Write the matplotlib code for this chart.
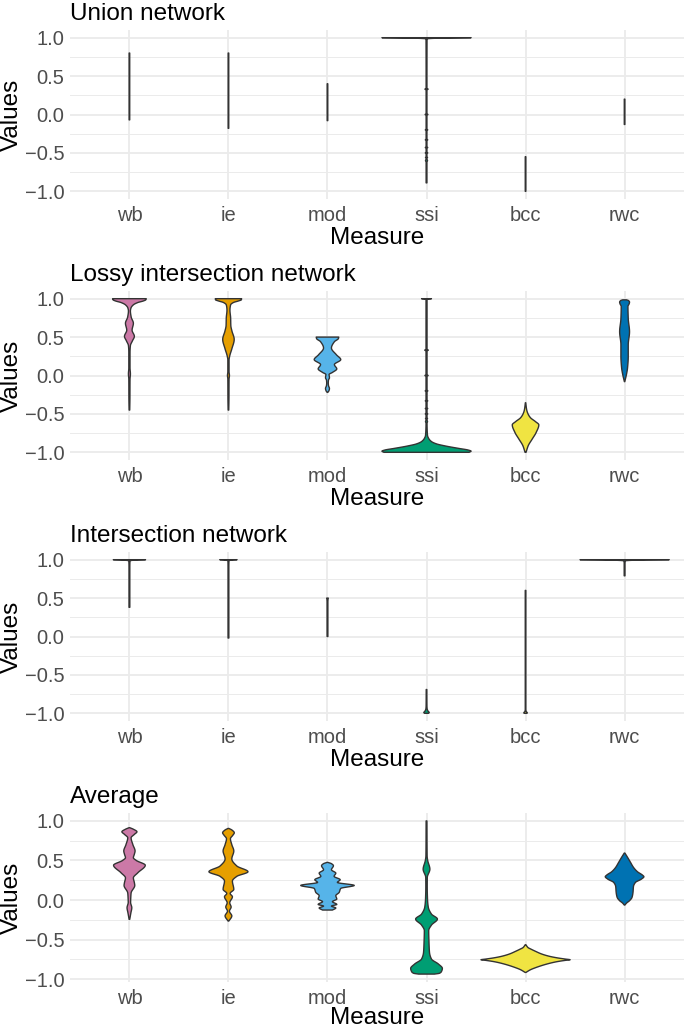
import numpy as np
import matplotlib
matplotlib.use("Agg")
import matplotlib.pyplot as plt

plt.rcParams['font.family'] = ['Liberation Sans', 'DejaVu Sans']

measures = ["wb", "ie", "mod", "ssi", "bcc", "rwc"]
fill_colors = ["#CC79A7", "#E69F00", "#56B4E9", "#009E73", "#F0E442", "#0072B2"]
panel_titles = ["Union network", "Lossy intersection network", "Intersection network", "Average"]
y_major = [-1.0, -0.5, 0.0, 0.5, 1.0]
y_major_labels = ["\u22121.0", "\u22120.5", "0.0", "0.5", "1.0"]
y_minor = [-0.75, -0.25, 0.25, 0.75]

# Violin outlines: value levels (ascending) and half-widths (in category units, max 0.45)
union_y = {
    "wb": [-0.07, 0.8],
    "ie": [-0.18, 0.8],
    "mod": [-0.08, 0.4],
    "ssi": [-0.89, -0.62, -0.6, -0.58, -0.57, -0.56, -0.55, -0.51, -0.5, -0.49, -0.44, -0.43, -0.42,
            -0.34, -0.33, -0.32, -0.21, -0.2, -0.19, -0.01, 0.0, 0.01, 0.32, 0.33, 0.34, 0.985, 0.995, 1.0],
    "bcc": [-1.0, -0.55],
    "rwc": [-0.13, 0.2],
}
union_w = {
    "wb": [0.003, 0.003],
    "ie": [0.003, 0.003],
    "mod": [0.003, 0.003],
    "ssi": [0.004, 0.004, 0.01, 0.004, 0.004, 0.01, 0.004, 0.004, 0.012, 0.004, 0.004, 0.012, 0.004,
            0.004, 0.012, 0.004, 0.004, 0.012, 0.004, 0.004, 0.014, 0.004, 0.004, 0.016, 0.004, 0.005, 0.15, 0.45],
    "bcc": [0.003, 0.003],
    "rwc": [0.003, 0.003],
}

lossy_y = {
    "wb": [-0.45, -0.3, -0.05, 0.02, 0.1, 0.3, 0.39, 0.45, 0.51, 0.59, 0.68, 0.76, 0.84, 0.88, 0.92, 0.95, 0.97, 0.985, 1.0],
    "ie": [-0.45, -0.3, -0.05, 0.0, 0.05, 0.2, 0.25, 0.35, 0.47, 0.58, 0.65, 0.75, 0.85, 0.92, 0.95, 0.97, 0.985, 1.0],
    "mod": [-0.22, -0.2, -0.17, -0.13, -0.1, -0.06, -0.03, 0.013, 0.04, 0.086, 0.142, 0.207, 0.27, 0.358, 0.44, 0.48, 0.5],
    "ssi": [-1.0, -0.985, -0.97, -0.95, -0.92, -0.89, -0.86, -0.82, -0.78, -0.62, -0.6, -0.58, -0.57, -0.56, -0.55,
            -0.51, -0.5, -0.49, -0.44, -0.43, -0.42, -0.34, -0.33, -0.32, -0.21, -0.2, -0.19,
            -0.01, 0.0, 0.01, 0.32, 0.33, 0.34, 0.985, 0.995, 1.0],
    "bcc": [-1.0, -0.914, -0.828, -0.742, -0.642, -0.6, -0.55, -0.5, -0.45, -0.4, -0.355],
    "rwc": [-0.08, 0.02, 0.1, 0.25, 0.4, 0.57, 0.74, 0.9, 0.93, 0.955, 0.975, 0.985],
}
lossy_w = {
    "wb": [0.003, 0.005, 0.006, 0.01, 0.006, 0.006, 0.01, 0.03, 0.05, 0.027, 0.04, 0.018, 0.01, 0.016, 0.04, 0.085, 0.14, 0.165, 0.17],
    "ie": [0.003, 0.005, 0.006, 0.01, 0.006, 0.006, 0.012, 0.035, 0.058, 0.035, 0.024, 0.022, 0.015, 0.022, 0.05, 0.1, 0.13, 0.133],
    "mod": [0.003, 0.014, 0.02, 0.01, 0.008, 0.01, 0.02, 0.016, 0.05, 0.094, 0.07, 0.134, 0.09, 0.04, 0.07, 0.11, 0.114],
    "ssi": [0.43, 0.45, 0.42, 0.33, 0.2, 0.1, 0.05, 0.022, 0.01, 0.005, 0.01, 0.005, 0.005, 0.01, 0.005,
            0.005, 0.012, 0.005, 0.005, 0.012, 0.005, 0.005, 0.012, 0.005, 0.005, 0.013, 0.005,
            0.005, 0.016, 0.005, 0.005, 0.018, 0.005, 0.005, 0.01, 0.05],
    "bcc": [0.005, 0.027, 0.067, 0.107, 0.134, 0.1, 0.05, 0.025, 0.012, 0.006, 0.002],
    "rwc": [0.002, 0.02, 0.03, 0.037, 0.037, 0.05, 0.037, 0.034, 0.045, 0.05, 0.04, 0.02],
}

inter_y = {
    "wb": [0.38, 0.9, 0.985, 0.997, 1.0],
    "ie": [-0.02, 0.9, 0.985, 0.997, 1.0],
    "mod": [0.0, 0.45, 0.49, 0.5],
    "ssi": [-1.0, -0.99, -0.97, -0.94, -0.9, -0.69],
    "bcc": [-1.0, -0.99, -0.98, -0.95, 0.6],
    "rwc": [0.79, 0.95, 0.985, 0.997, 1.0],
}
inter_w = {
    "wb": [0.004, 0.004, 0.006, 0.08, 0.163],
    "ie": [0.004, 0.004, 0.005, 0.04, 0.087],
    "mod": [0.004, 0.004, 0.006, 0.008],
    "ssi": [0.02, 0.027, 0.015, 0.006, 0.004, 0.003],
    "bcc": [0.015, 0.017, 0.008, 0.003, 0.003],
    "rwc": [0.004, 0.004, 0.008, 0.2, 0.45],
}

avg_y = {
    "wb": [-0.244, -0.16, -0.097, -0.03, 0.04, 0.09, 0.185, 0.22, 0.28, 0.345, 0.44, 0.5, 0.535, 0.58, 0.62, 0.7, 0.787, 0.83, 0.863, 0.895, 0.914],
    "ie": [-0.265, -0.2, -0.14, -0.088, -0.034, 0.042, 0.084, 0.135, 0.24, 0.3, 0.358, 0.43, 0.52, 0.62, 0.7, 0.775, 0.82, 0.85, 0.885, 0.905],
    "mod": [-0.126, -0.1, -0.076, -0.055, -0.02, 0.013, 0.055, 0.097, 0.147, 0.185, 0.223, 0.257, 0.3, 0.34, 0.383, 0.434, 0.46, 0.476],
    "ssi": [-0.935, -0.925, -0.905, -0.863, -0.808, -0.745, -0.66, -0.535, -0.387, -0.316, -0.24, -0.177, -0.09, 0.013,
            0.18, 0.286, 0.39, 0.5, 0.56, 1.0],
    "bcc": [-0.914, -0.88, -0.85, -0.81, -0.78, -0.762, -0.754, -0.745, -0.73, -0.71, -0.68, -0.647, -0.62, -0.6, -0.564],
    "rwc": [-0.063, -0.038, -0.008, 0.034, 0.097, 0.173, 0.223, 0.265, 0.295, 0.316, 0.358, 0.413, 0.476, 0.54, 0.594],
}
avg_w = {
    "wb": [0.003, 0.015, 0.024, 0.012, 0.014, 0.017, 0.054, 0.05, 0.04, 0.085, 0.16, 0.07, 0.04, 0.05, 0.057, 0.035, 0.017, 0.05, 0.076, 0.04, 0.004],
    "ie": [0.004, 0.034, 0.01, 0.027, 0.013, 0.04, 0.017, 0.054, 0.04, 0.085, 0.197, 0.085, 0.034, 0.054, 0.034, 0.02, 0.045, 0.059, 0.035, 0.004],
    "mod": [0.05, 0.084, 0.04, 0.094, 0.05, 0.094, 0.084, 0.118, 0.134, 0.27, 0.1, 0.128, 0.067, 0.084, 0.04, 0.06, 0.04, 0.004],
    "ssi": [0.08, 0.13, 0.15, 0.16, 0.12, 0.05, 0.03, 0.025, 0.022, 0.05, 0.11, 0.05, 0.018, 0.01,
            0.007, 0.008, 0.034, 0.012, 0.006, 0.004],
    "bcc": [0.004, 0.05, 0.11, 0.21, 0.31, 0.4, 0.45, 0.4, 0.32, 0.24, 0.16, 0.1, 0.055, 0.025, 0.003],
    "rwc": [0.003, 0.02, 0.05, 0.075, 0.085, 0.09, 0.11, 0.17, 0.195, 0.18, 0.13, 0.09, 0.06, 0.03, 0.003],
}

panels_y = [union_y, lossy_y, inter_y, avg_y]
panels_w = [union_w, lossy_w, inter_w, avg_w]
panel_ylims = [(-1.1, 1.1), (-1.1, 1.1), (-1.1, 1.1), (-1.035, 1.1)]


def pchip(x, y, xn):
    x = np.asarray(x, float)
    y = np.asarray(y, float)
    n = len(x)
    if n == 2:
        return np.interp(xn, x, y)
    h = np.diff(x)
    d = np.diff(y) / h
    m = np.zeros(n)
    for k in range(1, n - 1):
        if d[k - 1] * d[k] > 0:
            w1 = 2 * h[k] + h[k - 1]
            w2 = h[k] + 2 * h[k - 1]
            m[k] = (w1 + w2) / (w1 / d[k - 1] + w2 / d[k])
    m[0] = d[0]
    m[-1] = d[-1]
    idx = np.clip(np.searchsorted(x, xn, side='right') - 1, 0, n - 2)
    t = (xn - x[idx]) / h[idx]
    h00 = 2 * t**3 - 3 * t**2 + 1
    h10 = t**3 - 2 * t**2 + t
    h01 = -2 * t**3 + 3 * t**2
    h11 = t**3 - t**2
    return h00 * y[idx] + h10 * h[idx] * m[idx] + h01 * y[idx + 1] + h11 * h[idx] * m[idx + 1]


def draw_violin(ax, pos, ys, ws, color):
    yy = np.unique(np.concatenate([np.linspace(ys[0], ys[-1], 800), ys]))
    hw = np.clip(pchip(ys, ws, yy), 0.0015, 0.45)
    px = np.concatenate([pos - hw, (pos + hw)[::-1]])
    py = np.concatenate([yy, yy[::-1]])
    ax.fill(px, py, facecolor=color, edgecolor="#333333", linewidth=1.0,
            joinstyle="round", zorder=3)


W, H = 685, 1029
fig = plt.figure(figsize=(W / 100, H / 100), dpi=100)
left_px, right_px = 70, 684
tops_px = [30, 291, 552, 813]
panel_h = 169

for i in range(4):
    top = tops_px[i]
    ax = fig.add_axes([left_px / W, 1 - (top + panel_h) / H, (right_px - left_px) / W, panel_h / H])
    for j, name in enumerate(measures):
        draw_violin(ax, j + 1, panels_y[i][name], panels_w[i][name], fill_colors[j])
    ax.set_xlim(0.4, 6.6)
    ax.set_ylim(*panel_ylims[i])
    ax.set_xticks(range(1, 7))
    ax.set_xticklabels(measures)
    ax.set_yticks(y_major)
    ax.set_yticklabels(y_major_labels)
    ax.set_yticks(y_minor, minor=True)
    ax.grid(which="major", color="#EBEBEB", linewidth=1.3)
    ax.grid(which="minor", axis="y", color="#EBEBEB", linewidth=0.7)
    ax.set_axisbelow(True)
    for s in ax.spines.values():
        s.set_visible(False)
    ax.tick_params(which="both", length=0)
    ax.tick_params(axis="x", pad=5, labelsize=14.5, labelcolor="#4D4D4D")
    ax.tick_params(axis="y", pad=4, labelsize=14.5, labelcolor="#4D4D4D")
    ax.set_title(panel_titles[i], loc="left", fontsize=17.5, color="black", pad=7)
    ax.set_xlabel("Measure", fontsize=17.5, color="black")
    ax.set_ylabel("Values", fontsize=17.5, color="black")
    label_top = 227 if i < 3 else 224
    ax.xaxis.set_label_coords(0.5, -(label_top - 199) / panel_h)
    ax.yaxis.set_label_coords(-(70 - 23) / (right_px - left_px), 0.5)

fig.savefig("out.png", dpi=100)
